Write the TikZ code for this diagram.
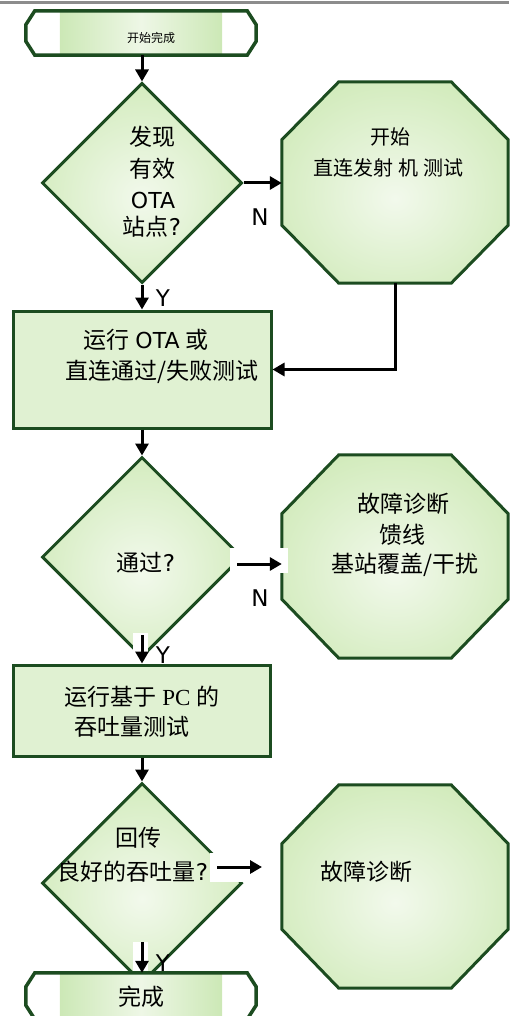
\documentclass[tikz,border=0pt]{standalone}
\usepackage{fontspec}
\setmainfont{DejaVu Sans}
\newfontfamily\cjk{Noto Sans CJK SC}
\newfontfamily\lat{DejaVu Sans}
\newfontfamily\serifpc{Liberation Serif}
\usetikzlibrary{shapes.geometric,arrows.meta,calc}
\definecolor{dkg}{RGB}{28,76,32}
\definecolor{gout}{RGB}{194,228,164}
\definecolor{gin}{RGB}{242,249,236}
\definecolor{grule}{RGB}{140,140,140}
\definecolor{rgA}{RGB}{196,228,168}
\definecolor{rgB}{RGB}{224,241,210}
\definecolor{tg}{RGB}{204,232,182}
\definecolor{tgl}{RGB}{238,247,230}
\pgfdeclareradialshading{glow}{\pgfpoint{0bp}{-4bp}}{color(0bp)=(gin); color(44bp)=(gout); color(72bp)=(gout)}
\pgfdeclareverticalshading{barshade}{100bp}{color(0bp)=(rgA); color(25bp)=(rgB); color(75bp)=(rgB); color(100bp)=(rgA)}
% chamfered outline drawn round a holder node: #1 node, #2 x-chamfer, #3 y-chamfer, #4 options
\newcommand\chamf[4]{\path[#4] ($(#1.north west)+(#2,0)$) -- ($(#1.north east)+(-#2,0)$) -- ($(#1.north east)+(0,#3)$) -- ($(#1.south east)+(0,-#3)$) -- ($(#1.south east)+(-#2,0)$) -- ($(#1.south west)+(#2,0)$) -- ($(#1.south west)+(0,-#3)$) -- ($(#1.north west)+(0,#3)$) -- cycle;}
\tikzset{
  holder/.style={rectangle, inner sep=0pt, draw=none},
  dia/.style={diamond, draw=dkg, line width=3pt, shade, shading=glow, minimum width=200pt, minimum height=200pt, inner sep=0pt, aspect=1},
  bar/.style={rectangle, draw=dkg, line width=3pt, shade, shading=barshade, inner sep=0pt},
  octo/.style={draw=dkg, line width=3pt, shade, shading=glow, line join=miter},
  arr/.style={line width=3pt, -{Triangle[width=13pt,length=12pt]}},
  txt/.style={font=\cjk\fontsize{23}{27}\selectfont, inner sep=0pt},
  txs/.style={font=\cjk\fontsize{20}{24}\selectfont, inner sep=0pt},
  lbl/.style={font=\lat\fontsize{23}{27}\selectfont, inner sep=0pt},
  wbox/.style={fill=white, draw=none, inner sep=0pt}
}
\begin{document}
\begin{tikzpicture}[x=1pt,y=-1pt]
\useasboundingbox (0,0) rectangle (509,1016);
\draw[grule, line width=3pt] (0,2.5) -- (509,2.5);

% start terminator
\node[holder, minimum width=230pt, minimum height=44pt] (st) at (141,33) {};
\fill[left color=tg, right color=tg, middle color=tgl] ($(st.north west)+(34,0)$) rectangle ($(st.south east)+(-34,0)$);
\chamf{st}{9}{14}{draw=dkg, line width=3.5pt}
\node[font=\cjk\fontsize{12}{14}\selectfont, inner sep=0pt] (tst) at (151,38) {开始完成};

% decision 1 and octagon 1
\node[dia] (d1) at (142,183) {};
\node[holder, minimum width=226pt, minimum height=201pt] (o1) at (395,182.5) {};
\chamf{o1}{57}{58}{octo}

% rect 1
\node[bar, minimum width=258pt, minimum height=117pt] (r1) at (142,369.5) {};

% decision 2 and octagon 2
\node[dia] (d2) at (142,557) {};
\node[holder, minimum width=226pt, minimum height=203pt] (o2) at (395,556.5) {};
\chamf{o2}{57}{59}{octo}

% rect 2
\node[bar, minimum width=257pt, minimum height=91pt] (r2) at (141.5,710.5) {};

% decision 3 and octagon 3
\node[dia] (d3) at (142,883) {};
\node[holder, minimum width=226pt, minimum height=203pt] (o3) at (395,886.5) {};
\chamf{o3}{57}{59}{octo}

% white patches behind some arrows
\node[wbox, minimum width=58pt, minimum height=25pt] (wn2) at (259,560.5) {};
\node[wbox, minimum width=15pt, minimum height=29pt] (wy2) at (140.5,647.5) {};
\node[wbox, minimum width=53pt, minimum height=29pt] (wn3) at (236.5,867.5) {};
\node[wbox, minimum width=15pt, minimum height=30pt] (wy3) at (140.5,957) {};

% labels
\node[lbl] (ln1) at (260,217) {N};
\node[lbl] (ly1) at (163,298) {Y};
\node[lbl] (ln2) at (260,598) {N};
\node[lbl] (ly2) at (163,655) {Y};
\node[lbl] (ly3) at (163,963) {Y};

% end terminator
\node[holder, minimum width=230pt, minimum height=46pt] (en) at (141,996) {};
\fill[left color=tg, right color=tg, middle color=tgl] ($(en.north west)+(34,0)$) rectangle ($(en.south east)+(-34,0)$);
\chamf{en}{9}{14}{draw=dkg, line width=3.5pt}
\node[txt] (ten) at (141,997) {完成};

% connectors
\draw[arr] (d1.north |- st.south) -- (d1.north);
\draw[arr] (d1.east) -- (d1.east -| o1.west);
\draw[arr] (d1.south) -- (r1.north);
\draw[arr] (o1.south) |- (r1.east);
\draw[arr] (r1.south) -- (d2.north);
\coordinate (n2s) at (237,564);
\draw[arr] (n2s) -- (n2s -| o2.west);
\coordinate (y2s) at (142,635);
\draw[arr] (y2s) -- (y2s |- r2.north);
\draw[arr] (d3.north |- r2.south) -- (d3.north);
\coordinate (n3s) at (217,867);
\coordinate (n3e) at (262,867);
\draw[arr] (n3s) -- (n3e);
\coordinate (y3s) at (142,942);
\draw[arr] (y3s) -- (y3s |- en.north);

% texts
\node[txt] (t1a) at (152,137) {发现};
\node[txt] (t1b) at (152,169) {有效};
\node[txt] (t1c) at (153,200) {{\lat\fontsize{22}{26}\selectfont OTA}};
\node[txt] (t1d) at (152,227) {站点{\lat ?}};

\node[txs] (to1a) at (390,137) {开始};
\node[txs] (to1b) at (388,168) {直连发射\hspace{5pt}机\hspace{5pt}测试};

\node[txt] (tr1a) at (146,340) {运行\hspace{6pt}{\lat\fontsize{22}{26}\selectfont OTA}\hspace{6pt}或};
\node[txt] (tr1b) at (162,372) {直连通过/失败测试};

\node[txt] (td2) at (146,563) {通过{\lat ?}};

\node[txt] (to2a) at (403,504) {故障诊断};
\node[txt] (to2b) at (402,535) {馈线};
\node[txt] (to2c) at (405,565) {基站覆盖/干扰};

\node[txt] (tr2a) at (142,697) {运行基于\hspace{6pt}{\serifpc PC}\hspace{6pt}的};
\node[txt] (tr2b) at (132,727) {吞吐量测试};

\node[txt] (td3a) at (138,838) {回传};
\node[txt] (td3b) at (133,872) {良好的吞吐量{\lat ?}};

\node[txt] (to3) at (366,872) {故障诊断};
\end{tikzpicture}
\end{document}
